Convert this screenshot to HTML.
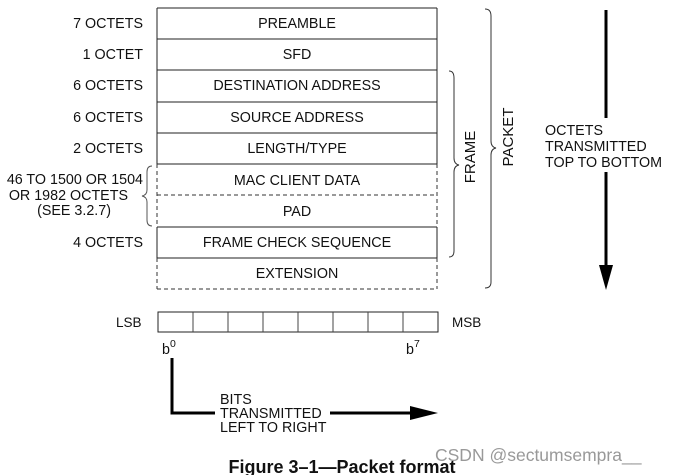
<!DOCTYPE html>
<html><head><meta charset="utf-8"><style>
html,body{margin:0;padding:0;background:#fff;}
svg{display:block;font-family:"Liberation Sans",Arial,sans-serif;}
</style></head><body>
<svg width="673" height="475" viewBox="0 0 673 475" xmlns="http://www.w3.org/2000/svg">
<g font-size="14.3" fill="#111">
<g stroke="#222" stroke-width="1" fill="none">
<line x1="157" y1="8" x2="437" y2="8"/>
<line x1="157" y1="39" x2="437" y2="39"/>
<line x1="157" y1="70" x2="437" y2="70"/>
<line x1="157" y1="102" x2="437" y2="102"/>
<line x1="157" y1="133" x2="437" y2="133"/>
<line x1="157" y1="164" x2="437" y2="164"/>
<line x1="157" y1="227" x2="437" y2="227"/>
<line x1="157" y1="258" x2="437" y2="258"/>
<line x1="157" y1="8" x2="157" y2="164"/>
<line x1="437" y1="8" x2="437" y2="164"/>
<line x1="157" y1="227" x2="157" y2="258"/>
<line x1="437" y1="227" x2="437" y2="258"/>
</g>
<g stroke="#333" stroke-width="1" fill="none" stroke-dasharray="4,3">
<line x1="157" y1="195" x2="437" y2="195"/>
<line x1="157" y1="289" x2="437" y2="289"/>
<line x1="157" y1="164" x2="157" y2="227"/>
<line x1="437" y1="164" x2="437" y2="227"/>
<line x1="157" y1="258" x2="157" y2="289"/>
<line x1="437" y1="258" x2="437" y2="289"/>
</g>
<g text-anchor="middle">
<text x="297" y="28">PREAMBLE</text>
<text x="297" y="59">SFD</text>
<text x="297" y="90">DESTINATION ADDRESS</text>
<text x="297" y="122">SOURCE ADDRESS</text>
<text x="297" y="153">LENGTH/TYPE</text>
<text x="297" y="185">MAC CLIENT DATA</text>
<text x="297" y="216">PAD</text>
<text x="297" y="247">FRAME CHECK SEQUENCE</text>
<text x="297" y="278">EXTENSION</text>
</g>
<g text-anchor="end">
<text x="143" y="28">7 OCTETS</text>
<text x="143" y="59">1 OCTET</text>
<text x="143" y="90">6 OCTETS</text>
<text x="143" y="122">6 OCTETS</text>
<text x="143" y="153">2 OCTETS</text>
<text x="143" y="247">4 OCTETS</text>
<text x="143" y="184">46 TO 1500 OR 1504</text>
</g>
<text x="128" y="200" text-anchor="end">OR 1982 OCTETS</text>
<text x="111" y="215" text-anchor="end">(SEE 3.2.7)</text>
<path d="M152,166 Q147,166 147,172 L147,190 Q147,195 142,196 Q147,197 147,202 L147,220 Q147,226 152,226" stroke="#555" fill="none"/>
<path d="M449,71 Q454,71 454,78 L454,158 Q454,164 459,165 Q454,166 454,172 L454,251 Q454,257 449,257" stroke="#333" fill="none"/>
<text transform="translate(475,157) rotate(-90)" text-anchor="middle" font-size="15">FRAME</text>
<path d="M485,9 Q491,9 491,16 L491,141 Q491,147 496,148 Q491,149 491,155 L491,282 Q491,288 485,288" stroke="#333" fill="none"/>
<text transform="translate(513,137) rotate(-90)" text-anchor="middle" font-size="15">PACKET</text>
<line x1="606" y1="10" x2="606" y2="118" stroke="#000" stroke-width="3"/>
<line x1="606" y1="172" x2="606" y2="268" stroke="#000" stroke-width="3"/>
<polygon points="599,265 613,265 606,290" fill="#000"/>
<text x="545" y="135">OCTETS</text>
<text x="545" y="151">TRANSMITTED</text>
<text x="545" y="167">TOP TO BOTTOM</text>
<rect x="158" y="312" width="280" height="20" fill="none" stroke="#222"/>
<g stroke="#444">
<line x1="193" y1="312" x2="193" y2="332"/>
<line x1="228" y1="312" x2="228" y2="332"/>
<line x1="263" y1="312" x2="263" y2="332"/>
<line x1="298" y1="312" x2="298" y2="332"/>
<line x1="333" y1="312" x2="333" y2="332"/>
<line x1="368" y1="312" x2="368" y2="332"/>
<line x1="403" y1="312" x2="403" y2="332"/>
</g>
<text x="116" y="327" font-size="13.5">LSB</text>
<text x="452" y="327" font-size="13.5">MSB</text>
<text x="162" y="354">b<tspan font-size="10.5" dy="-7">0</tspan></text>
<text x="406" y="354">b<tspan font-size="10.5" dy="-7">7</tspan></text>
<polyline points="172,358 172,413 215,413" fill="none" stroke="#000" stroke-width="3"/>
<line x1="330" y1="413" x2="412" y2="413" stroke="#000" stroke-width="3"/>
<polygon points="410,406 438,413 410,420" fill="#000"/>
<text x="220" y="404">BITS</text>
<text x="220" y="418">TRANSMITTED</text>
<text x="220" y="432">LEFT TO RIGHT</text>
<text x="342" y="473" text-anchor="middle" font-weight="bold" font-size="18">Figure 3–1—Packet format</text>
<text x="435" y="461" font-size="17.5" fill="#999">CSDN @sectumsempra__</text>
</g>
</svg>
</body></html>
